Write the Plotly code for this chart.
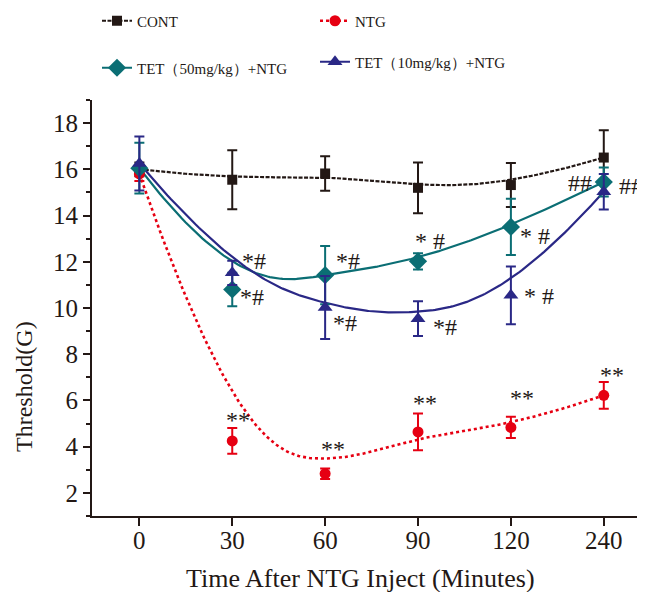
import numpy as np
import plotly.graph_objects as go

# ---------------- data ----------------
time_labels = ["0", "30", "60", "90", "120", "240"]

cont_mean = [16.0, 15.55, 15.82, 15.2, 15.32, 16.51]
cont_err = [0.3, 1.28, 0.75, 1.1, 0.95, 1.18]

ntg_mean = [15.8, 4.25, 2.83, 4.64, 4.83, 6.22]
ntg_err = [0.3, 0.56, 0.23, 0.8, 0.46, 0.58]

tet50_mean = [16.05, 10.8, 11.42, 12.02, 13.51, 15.45]
tet50_err = [1.1, 0.72, 1.26, 0.35, 1.22, 0.63]

tet10_mean = [16.25, 11.52, 10.02, 9.54, 10.55, 15.03]
tet10_err = [1.17, 0.52, 1.36, 0.75, 1.25, 0.77]

ntg_sig = ["", "**", "**", "**", "**", "**"]
tet50_sig = ["", "*#", "*#", "* #", "* #", "##"]
tet10_sig = ["", "*#", "*#", "*#", "* #", "##"]

# ---------------- styles / positions ----------------
C_AX = "#231815"
C_CONT = "#231815"
C_NTG = "#E60012"
C_T50 = "#0B6E74"
C_T10 = "#2A2886"
FONT = "Liberation Serif"

# the page body adds an 8px margin, so the figure is laid out 8px smaller/shifted
OFF = 8
W, H = 645 - OFF, 592 - OFF

# pixel offsets of significance labels relative to their point (dx right, dy down)
ntg_off = [None, (6, -21), (8, -25), (7, -29), (11, -29), (8, -20)]
t50_off = [None, (20, 7), (23, -14), (12, -20), (24, 9), (-24, 1)]
t10_off = [None, (22, -12), (20, 15), (27, 8), (28, 1), (27, -6)]

xi = np.arange(len(time_labels), dtype=float)


def bspline(px, py, n=200):
    """Clamped uniform cubic B-spline using the data points as control points."""
    px = np.asarray(px, float)
    py = np.asarray(py, float)
    k = 3
    m = len(px)
    inner = np.linspace(0, 1, m - k + 1)
    knots = np.concatenate([[0] * k, inner, [1] * k])
    u = np.linspace(0, 1, n)
    u[-1] = 1 - 1e-12

    def basis(i, p, t):
        if p == 0:
            return ((knots[i] <= t) & (t < knots[i + 1])).astype(float)
        a = 0.0
        b = 0.0
        d1 = knots[i + p] - knots[i]
        d2 = knots[i + p + 1] - knots[i + 1]
        if d1 > 0:
            a = (t - knots[i]) / d1 * basis(i, p - 1, t)
        if d2 > 0:
            b = (knots[i + p + 1] - t) / d2 * basis(i + 1, p - 1, t)
        return a + b

    B = np.array([basis(i, k, u) for i in range(m)])
    return B.T @ px, B.T @ py


series = [
    ("CONT", cont_mean, cont_err, C_CONT, "square", 10, dict(dash="4px,1.5px", width=2.2)),
    ("NTG", ntg_mean, ntg_err, C_NTG, "circle", 11, dict(dash="3px,3px", width=2.6)),
    ("TET（50mg/kg）+NTG", tet50_mean, tet50_err, C_T50, "diamond", 14, dict(width=2.2)),
    ("TET（10mg/kg）+NTG", tet10_mean, tet10_err, C_T10, "triangle-up", 13, dict(width=2.2)),
]

fig = go.Figure()

# smooth curves
for name, mean, err, col, sym, size, ln in series:
    cx, cy = bspline(xi, mean)
    fig.add_trace(go.Scatter(x=cx, y=cy, mode="lines", line=dict(color=col, **ln),
                             showlegend=False, hoverinfo="skip"))

# markers + error bars
for name, mean, err, col, sym, size, ln in series:
    fig.add_trace(go.Scatter(
        x=xi, y=mean, mode="markers", showlegend=False,
        marker=dict(symbol=sym, size=size, color=col, line=dict(width=0)),
        error_y=dict(type="data", array=err, visible=True, color=col, thickness=2, width=5),
    ))

# legend entries (positions in reference-page pixels)
leg_pos = {
    "legend": (97, 21),
    "legend2": (315, 21),
    "legend3": (97, 68),
    "legend4": (315, 62),
}
for (name, mean, err, col, sym, size, ln), lg in zip(series, ["legend", "legend2", "legend3", "legend4"]):
    fig.add_trace(go.Scatter(
        x=[None], y=[None], mode="lines+markers", name=name, legend=lg,
        line=dict(color=col, **ln),
        marker=dict(symbol=sym, size=size, color=col),
    ))

L, T = 92 - OFF, 100 - OFF
R = W - (640 - OFF)
B = H - (516 - OFF)
pw, ph = W - L - R, H - T - B

legends = {}
for lg, (lx, ly) in leg_pos.items():
    legends[lg] = dict(
        x=(lx - OFF) / W, y=1 - (ly - OFF) / H, xref="container", yref="container",
        xanchor="left", yanchor="middle", bgcolor="rgba(0,0,0,0)",
        font=dict(family=FONT, size=15, color=C_AX), itemwidth=30,
    )

annotations = []
for mean, sig, off in [(ntg_mean, ntg_sig, ntg_off), (tet50_mean, tet50_sig, t50_off),
                       (tet10_mean, tet10_sig, t10_off)]:
    for i, (v, s) in enumerate(zip(mean, sig)):
        if not s:
            continue
        dx, dy = off[i]
        annotations.append(dict(x=xi[i], y=v, xref="x", yref="y", text=s, showarrow=False,
                                xshift=dx, yshift=-dy, xanchor="center", yanchor="middle",
                                font=dict(family=FONT, size=24, color=C_AX)))


def paper_xy(px_, py_):
    return (px_ - OFF - L) / pw, 1 - (py_ - OFF - T) / ph


ax_x, ax_y = paper_xy(360, 578)
annotations.append(dict(x=ax_x, y=ax_y, xref="paper", yref="paper", xanchor="center",
                        yanchor="middle", text="Time After NTG Inject (Minutes)", showarrow=False,
                        font=dict(family=FONT, size=26, color=C_AX)))
ay_x, ay_y = paper_xy(24, 387)
annotations.append(dict(x=ay_x, y=ay_y, xref="paper", yref="paper", xanchor="center",
                        yanchor="middle", text="Threshold(G)", textangle=-90, showarrow=False,
                        font=dict(family=FONT, size=24, color=C_AX)))

fig.update_layout(
    width=W, height=H,
    margin=dict(l=L, r=R, t=T, b=B, autoexpand=False),
    paper_bgcolor="white", plot_bgcolor="white",
    font=dict(family=FONT, color=C_AX),
    annotations=annotations,
    **legends,
)
fig.update_xaxes(
    range=[-0.51, 5.39], tickvals=xi, ticktext=time_labels,
    showline=True, linecolor=C_AX, linewidth=2, showgrid=False, zeroline=False,
    ticks="outside", ticklen=8, tickwidth=2, tickcolor=C_AX, ticklabelstandoff=-7,
    tickfont=dict(family=FONT, size=25, color=C_AX), automargin=False,
)
fig.update_yaxes(
    range=[1, 19], tickvals=[2, 4, 6, 8, 10, 12, 14, 16, 18],
    showline=True, linecolor=C_AX, linewidth=2, showgrid=False, zeroline=False,
    ticks="outside", ticklen=7, tickwidth=2, tickcolor=C_AX,
    minor=dict(tickvals=[1, 3, 5, 7, 9, 11, 13, 15, 17, 19], ticks="outside", ticklen=4,
               tickwidth=2, tickcolor=C_AX),
    tickfont=dict(family=FONT, size=25, color=C_AX), automargin=False,
)

fig.write_html("out.html")
